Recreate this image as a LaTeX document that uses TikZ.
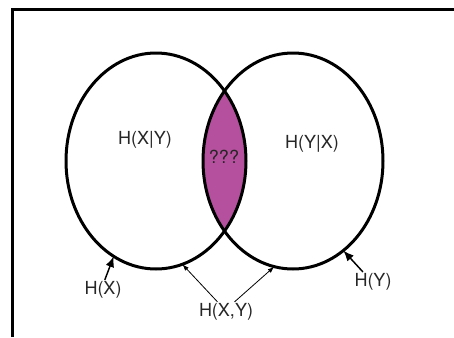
\documentclass[tikz,border=0pt]{standalone}
\usepackage{fontspec}
\setmainfont{TeX Gyre Heros}
\usetikzlibrary{arrows.meta,calc}
\definecolor{lensfill}{RGB}{181,80,158}
\begin{document}
\begin{tikzpicture}[x=0.75pt,y=0.75pt,
        set/.style={line width=2.25pt},
        lbl/.style={font=\fontsize{13.5}{16}\selectfont,text=black!85,inner sep=1pt},
        bigarrow/.style={-{Latex[length=8pt,width=6.5pt]},line width=1.1pt},
        thinarrow/.style={-{Latex[length=5pt,width=3.5pt]},line width=0.6pt}]
            \useasboundingbox (0,0) rectangle (454,337);
            \draw[line width=2.25pt] (12,0) -- (12,327.5) -- (454,327.5);
            \coordinate (cx) at (156,176);
            \coordinate (cy) at (293,176);
            % shared part
            \begin{scope}
                    \clip (cx) ellipse (90 and 108);
                    \fill[lensfill] (cy) ellipse (90 and 108);
            \end{scope}
            \draw[set] (cx) ellipse (90 and 108);
            \draw[set] (cy) ellipse (90 and 108);
            \node[lbl] (hxgy) at (145,197) {H(X|Y)};
            \node[lbl] (hygx) at (312,193) {H(Y|X)};
            \node[lbl] (mi) at (224,180) {???};
            \node[lbl] (hx) at (103,47) {H(X)};
            \node[lbl] (hy) at (373,55) {H(Y)};
            \node[lbl] (hxy) at (226,25) {H(X,Y)};
            \coordinate (tx) at ($(cx)+(242:90 and 108)$);
            \coordinate (ty) at ($(cy)+(304:90 and 108)$);
            \coordinate (txyl) at ($(cx)+(287:90 and 108)$);
            \coordinate (txyr) at ($(cy)+(258:90 and 108)$);
            \draw[bigarrow] (hx.80) -- (tx);
            \draw[bigarrow] (hy.135) -- (ty);
            \foreach \a/\t in {130/txyl,50/txyr}{\draw[thinarrow] (hxy.\a) -- (\t);}
\end{tikzpicture}
\end{document}
